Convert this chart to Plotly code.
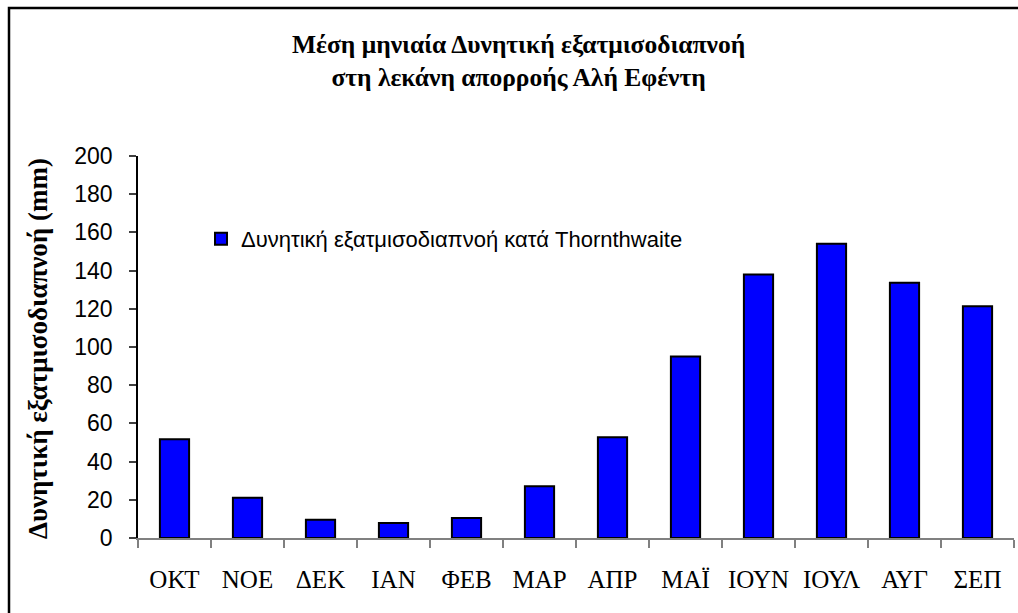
import plotly.graph_objects as go

# Monthly potential evapotranspiration (mm), hydrological year Oct-Sep
months = ["ΟΚΤ", "ΝΟΕ", "ΔΕΚ", "ΙΑΝ", "ΦΕΒ", "ΜΑΡ", "ΑΠΡ", "ΜΑΪ", "ΙΟΥΝ", "ΙΟΥΛ", "ΑΥΓ", "ΣΕΠ"]
pet_thornthwaite = [51.7, 21.1, 9.6, 7.9, 10.5, 27.1, 52.7, 95.0, 137.9, 154.0, 133.7, 121.3]
y_ticks = [0, 20, 40, 60, 80, 100, 120, 140, 160, 180, 200]

series_name = "Δυνητική εξατμισοδιαπνοή κατά Thornthwaite"
title_text = "<b>Μέση μηνιαία Δυνητική εξατμισοδιαπνοή<br>στη λεκάνη απορροής Αλή Εφέντη</b>"
y_title = "<b>Δυνητική εξατμισοδιαπνοή (mm)</b>"

W, H = 1018, 613
L, R, T, B = 138, 4, 156, 75
pw, ph = W - L - R, H - T - B

def px_x(x):
    return (x - L) / pw

def px_y(y):
    return (H - B - y) / ph

fig = go.Figure()
fig.add_trace(go.Bar(
    x=months,
    y=pet_thornthwaite,
    name=series_name,
    marker=dict(color="#0000FF", line=dict(color="#000000", width=2)),
    showlegend=True,
))

fig.update_layout(
    width=W, height=H,
    margin=dict(l=L, r=R, t=T, b=B),
    paper_bgcolor="white",
    plot_bgcolor="white",
    bargap=0.6,
    showlegend=True,
    legend=dict(
        x=px_x(201), y=px_y(218), xanchor="left", yanchor="top",
        bgcolor="rgba(0,0,0,0)",
        font=dict(family="Liberation Sans, Arial", size=22, color="black"),
    ),
    xaxis=dict(
        type="category",
        showline=True, linecolor="#808080", linewidth=2,
        ticks="outside", tickson="boundaries", ticklen=8, tickwidth=2, tickcolor="#808080",
        tickfont=dict(family="Liberation Serif, Times New Roman", size=25, color="black"),
        ticklabelstandoff=18,
        showgrid=False, zeroline=False,
    ),
    yaxis=dict(
        range=[0, 200],
        tickvals=y_ticks,
        showline=True, linecolor="#000000", linewidth=1.5,
        ticks="outside", ticklen=7, tickwidth=1.5, tickcolor="#404040",
        tickfont=dict(family="Liberation Sans, Arial", size=23, color="black"),
        ticklabelstandoff=12,
        showgrid=False, zeroline=False,
    ),
    annotations=[
        dict(
            text=title_text, xref="paper", yref="paper",
            x=px_x(518), y=px_y(61), xanchor="center", yanchor="middle",
            showarrow=False, align="center",
            font=dict(family="Liberation Serif, Times New Roman", size=25.5, color="black"),
        ),
        dict(
            text=y_title, xref="paper", yref="paper",
            x=px_x(38), y=px_y(349), xanchor="center", yanchor="middle",
            textangle=-90, showarrow=False,
            font=dict(family="Liberation Serif, Times New Roman", size=27, color="black"),
        ),
    ],
    shapes=[
        dict(
            type="rect", xref="paper", yref="paper",
            x0=px_x(9), y0=px_y(8), x1=px_x(1030), y1=px_y(630),
            line=dict(color="black", width=2.5), fillcolor="rgba(0,0,0,0)",
            layer="above",
        )
    ],
)

fig.write_html("out.html")
